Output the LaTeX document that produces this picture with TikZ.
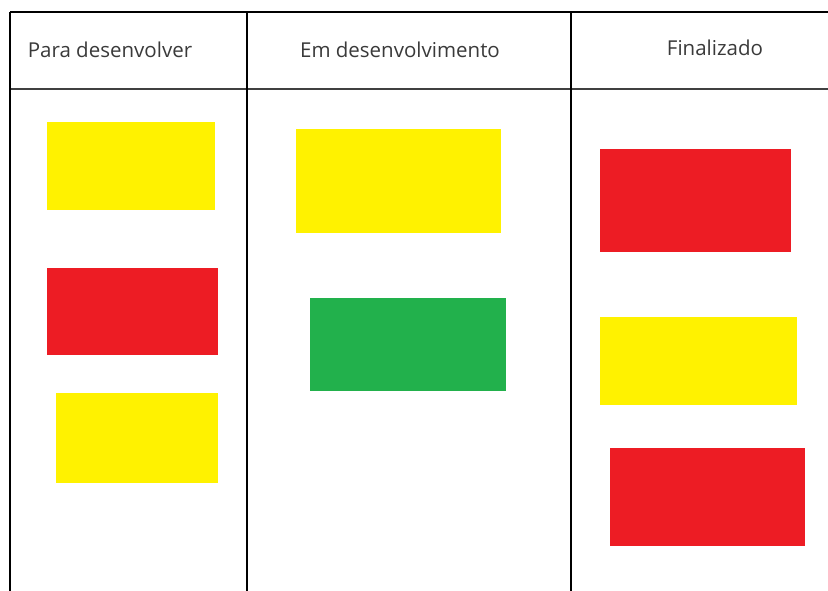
\documentclass[tikz,border=0pt]{standalone}
\usepackage{fontspec}
\setmainfont{Open Sans}
\definecolor{kyellow}{HTML}{FFF200}
\definecolor{kred}{HTML}{ED1C24}
\definecolor{kgreen}{HTML}{22B14C}
\definecolor{ktext}{HTML}{3A3A3A}
\begin{document}
\begin{tikzpicture}[x=1pt,y=-1pt,
  card/.style={inner sep=0pt, outer sep=0pt, draw=none},
  head/.style={text=ktext, font=\fontsize{20.5}{24}\selectfont, inner sep=0pt, anchor=center},
  border/.style={line width=2.4pt, black},
  thinborder/.style={line width=1.5pt, black},
  headline/.style={line width=1.3pt, black!75}]
\useasboundingbox[fill=white] (0,0) rectangle (828,591);
% grid
\coordinate (tl) at (10,12);
\coordinate (tr) at (828,12);
\coordinate (bl) at (10,591);
\coordinate (c1t) at (247,12);
\coordinate (c1b) at (247,591);
\coordinate (c2t) at (571,12);
\coordinate (c2b) at (571,591);
\coordinate (hl) at (10,89);
\coordinate (hr) at (828,89);
\draw[headline] (hl) -- (hr);
\draw[border] (tl) -- (tr);
\draw[border] (tl) -- (bl);
\draw[border] (c1t) -- (c1b);
\draw[thinborder] (c2t) -- (c2b);
% headers
\node[head] (h1) at (110,50) {Para desenvolver};
\node[head] (h2) at (400,50) {Em desenvolvimento};
\node[head] (h3) at (715,48) {Finalizado};
% cards
\fill[kyellow] (47,122) rectangle (215,210) coordinate (k1);
\fill[kred] (47,268) rectangle (218,355) coordinate (k2);
\fill[kyellow] (56,393) rectangle (218,483) coordinate (k3);
\fill[kyellow] (296,129) rectangle (501,233) coordinate (k4);
\fill[kgreen] (310,298) rectangle (506,391) coordinate (k5);
\fill[kred] (600,149) rectangle (791,252) coordinate (k6);
\fill[kyellow] (600,317) rectangle (797,405) coordinate (k7);
\fill[kred] (610,448) rectangle (805,546) coordinate (k8);
\end{tikzpicture}
\end{document}
